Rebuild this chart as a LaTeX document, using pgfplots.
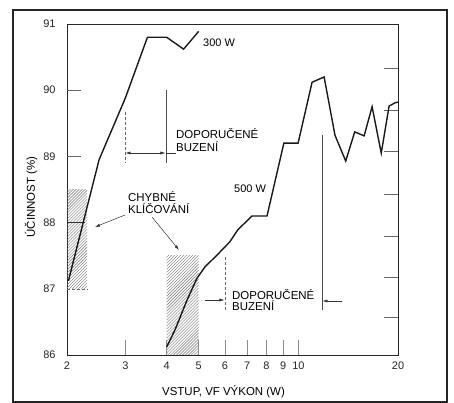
\documentclass[border=0pt]{standalone}
\usepackage{fontspec}
\setmainfont{Liberation Sans}
\usepackage{pgfplots}
\pgfplotsset{compat=1.18}
\usetikzlibrary{patterns,arrows.meta}
\newcommand\fs{\fontsize{11.5}{12}\selectfont}
\begin{document}
\begin{tikzpicture}
\path[use as bounding box] (-67bp,-48bp) rectangle (387bp,355bp);
\begin{axis}[
  at={(0,0)}, anchor=south west, scale only axis,
  width=331bp, height=331bp,
  xmode=log, xmin=2, xmax=20, ymin=86, ymax=91,
  xtick={2,3,4,5,6,7,8,9,10,20},
  xticklabels={2,3,4,5,6,7,8,9,10,20},
  ytick={86,87,88,89,90,91},
  yticklabels={86,87,88,89,90,91},
  tick style={draw=none},
  major tick length=0pt, minor tick length=0pt,
  axis line style={line width=0.9pt, black!85},
  ticklabel style={font=\fontsize{11}{11}\selectfont, text=black!85},
  xticklabel style={yshift=-3bp},
  yticklabel style={xshift=-8bp},
  clip=false,
]
\fill[pattern=north east lines, pattern color=black!55] (axis cs:2,87) rectangle (axis cs:2.3,88.5);
\fill[pattern=north east lines, pattern color=black!55] (axis cs:4,86) rectangle (axis cs:5,87.5);
% ticks
\draw[black!45, line width=0.6pt] (axis cs:3,86) -- (axis cs:3,86.23);
\draw[black!45, line width=0.6pt] (axis cs:4,86) -- (axis cs:4,86.23);
\draw[black!45, line width=0.6pt] (axis cs:5,86) -- (axis cs:5,86.23);
\draw[black!45, line width=0.6pt] (axis cs:6,86) -- (axis cs:6,86.23);
\draw[black!45, line width=0.6pt] (axis cs:7,86) -- (axis cs:7,86.23);
\draw[black!45, line width=0.6pt] (axis cs:8,86) -- (axis cs:8,86.23);
\draw[black!45, line width=0.6pt] (axis cs:9,86) -- (axis cs:9,86.23);
\draw[black!45, line width=0.6pt] (axis cs:10,86) -- (axis cs:10,86.23);
\draw[black!60, line width=0.6pt] (axis cs:2,90) -- (axis cs:2.21,90);
\draw[black!60, line width=0.6pt] (axis cs:2,89) -- (axis cs:2.21,89);
\draw[black!80, line width=0.6pt] (axis cs:2,88) -- (axis cs:2.27,88);
\draw[black!60, line width=0.6pt, densely dashed] (axis cs:2,87) -- (axis cs:2.3,87);
\draw[black!60, line width=0.6pt] (axis cs:20,90.335) -- (axis cs:18.1,90.335);
\draw[black!60, line width=0.6pt] (axis cs:20,89.70) -- (axis cs:18.1,89.70);
\draw[black!60, line width=0.6pt] (axis cs:20,89.07) -- (axis cs:18.1,89.07);
\draw[black!60, line width=0.6pt] (axis cs:20,88.43) -- (axis cs:18.1,88.43);
\draw[black!60, line width=0.6pt] (axis cs:20,87.80) -- (axis cs:18.1,87.80);
\draw[black!60, line width=0.6pt] (axis cs:20,87.18) -- (axis cs:18.1,87.18);
\draw[black!60, line width=0.6pt] (axis cs:20,86.57) -- (axis cs:18.1,86.57);
% 300 W
\addplot[line width=1.4pt, black!90] coordinates {
 (2.02,87.12) (2.5,88.95) (3.0,89.88) (3.5,90.8) (4.0,90.8) (4.5,90.62) (5.0,90.89)};
% 500 W
\addplot[line width=1.4pt, black!90] coordinates {
 (4.0,86.12) (4.24,86.38) (4.61,86.83) (4.94,87.16) (5.22,87.33) (5.68,87.51)
 (6.21,87.71) (6.56,87.89) (7.24,88.10) (8.04,88.10) (9.04,89.20) (9.98,89.20)
 (11.0,90.12) (11.96,90.20) (12.9,89.32) (13.9,88.93) (14.8,89.37) (15.8,89.31)
 (16.7,89.75) (17.8,89.05) (18.8,89.76) (19.6,89.81) (20,89.82)};
\end{axis}
\begin{scope}[shift={(-67bp,355bp)}, x=1bp, y=-1bp]
\draw[line width=1.2pt, black!85] (13,10) rectangle (447,402);
\node[anchor=base west, inner sep=0, font=\fontsize{11}{11}\selectfont] at (203,47) {300 W};
\node[anchor=base west, inner sep=0, font=\fontsize{11}{11}\selectfont] at (234,193) {500 W};
\node[anchor=base west, inner sep=0, font=\fs] at (176,139) {DOPORUČENÉ};
\node[anchor=base west, inner sep=0, font=\fs] at (176,152) {BUZENÍ};
\node[anchor=base west, inner sep=0, font=\fs] at (232,300) {DOPORUČENÉ};
\node[anchor=base west, inner sep=0, font=\fs] at (232,311) {BUZENÍ};
\node[anchor=base west, inner sep=0, font=\fs] at (128,202) {CHYBNÉ};
\node[anchor=base west, inner sep=0, font=\fs] at (128,214) {KLÍČOVÁNÍ};
\node[anchor=base west, inner sep=0, font=\fs] at (162,396) {VSTUP, VF VÝKON (W)};
\node[anchor=base, rotate=90, inner sep=0, font=\fs] at (35,197) {ÚČINNOST (\%)};
\draw[densely dashed, line width=0.5pt, black!60] (125,112)--(125,162);
\draw[line width=0.5pt, black!70] (166,90)--(166,163);
\draw[line width=0.5pt, black!80, {Latex[length=5bp,width=3bp]}-{Latex[length=5bp,width=3bp]}] (125.5,153)--(165.5,153);
\draw[line width=0.5pt, black!80] (166,153)--(176,153);
\draw[densely dashed, line width=0.5pt, black!60] (225,257)--(225,310);
\draw[line width=0.5pt, black!70] (322,135)--(322,310);
\draw[line width=0.5pt, black!80, -{Latex[length=5bp,width=3bp]}] (205,300)--(224.5,300);
\draw[line width=0.5pt, black!80, -{Latex[length=5bp,width=3bp]}] (342,301)--(322.5,301);
\draw[line width=0.5pt, black!80, -{Latex[length=5bp,width=3bp]}] (125,215)--(95,227);
\draw[line width=0.5pt, black!80, -{Latex[length=5bp,width=3bp]}] (152,217)--(179,250);
\end{scope}
\end{tikzpicture}
\end{document}
